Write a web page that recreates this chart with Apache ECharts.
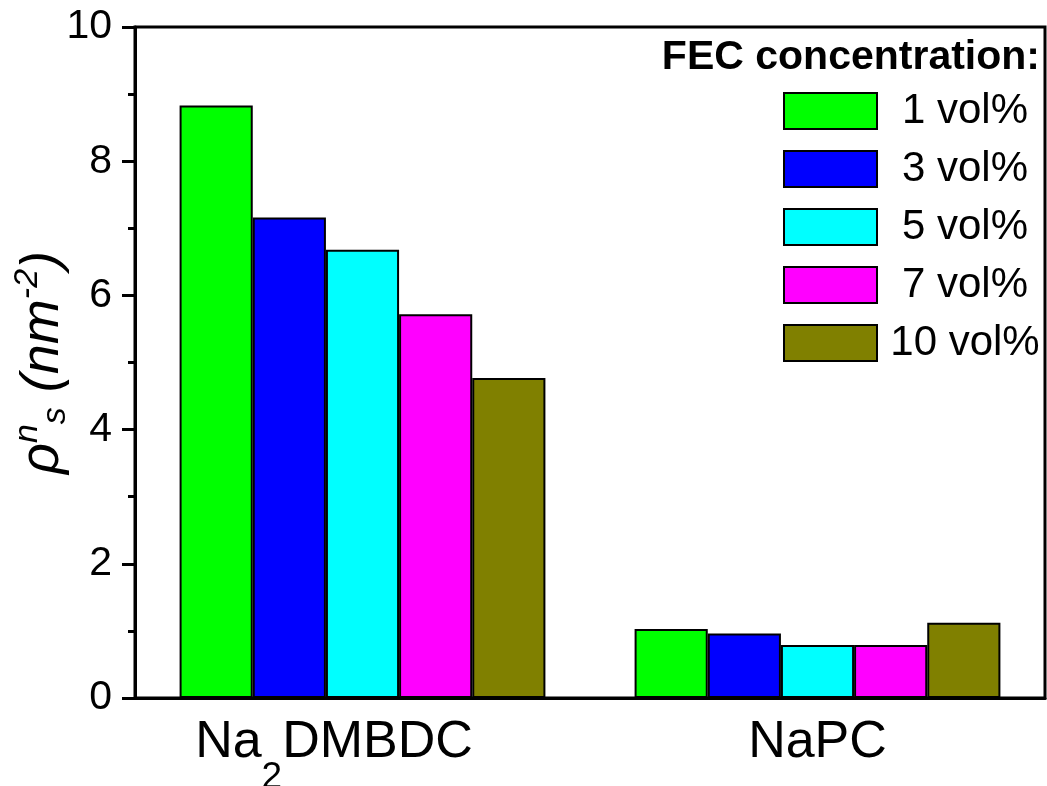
<!DOCTYPE html>
<html>
<head>
<meta charset="utf-8">
<script src="https://cdn.jsdelivr.net/npm/echarts@6/dist/echarts.min.js"></script>
<style>
  html, body { margin: 0; padding: 0; background: #fff; }
  #chart { width: 1047px; height: 786px; }
</style>
</head>
<body>
<div id="chart"></div>
<script>
// Surface density of species per electrolyte salt, grouped by FEC content
const categories = ['Na2DMBDC', 'NaPC'];
const seriesNames = ['1 vol%', '3 vol%', '5 vol%', '7 vol%', '10 vol%'];
const vol1 = [8.83, 1.03];
const vol3 = [7.16, 0.96];
const vol5 = [6.68, 0.79];
const vol7 = [5.72, 0.79];
const vol10 = [4.77, 1.12];
const yTicks = [0, 2, 4, 6, 8, 10];

const seriesValues = [vol1, vol3, vol5, vol7, vol10];
const colors = ['#00ff00', '#0000ff', '#00ffff', '#ff00ff', '#808000'];
const FONT = 'Liberation Sans, Arial, sans-serif';

const chart = echarts.init(document.getElementById('chart'), null, { renderer: 'canvas' });

// chemical formulae: digits become subscripts
function formatCategory(v) {
  if (!/\d/.test(v)) return v;
  const parts = v.split(/(\d+)/).filter(p => p.length);
  const s = parts.map(p => (/^\d+$/.test(p) ? '{sub|' + p + '}' : '{a|' + p + '}')).join('');
  return v === categories[0] ? s + '{gap|}' : s;
}

chart.setOption({
  animation: false,
  backgroundColor: '#fff',
  textStyle: { fontFamily: FONT, color: '#000' },
  title: {
    text: 'FEC concentration:',
    right: 7,
    top: 37,
    padding: 0,
    textStyle: { fontFamily: FONT, fontSize: 41, fontWeight: 'bold', color: '#000' }
  },
  legend: {
    orient: 'vertical',
    left: 783,
    top: 90,
    padding: 0,
    itemWidth: 93,
    itemHeight: 36,
    itemGap: 16,
    icon: 'rect',
    data: seriesNames,
    itemStyle: { borderColor: '#000', borderWidth: 2 },
    formatter: name => '{c|' + name + '}',
    textStyle: {
      fontFamily: FONT,
      fontSize: 42,
      color: '#000',
      rich: { c: { fontFamily: FONT, fontSize: 42, color: '#000', width: 166, align: 'center' } }
    }
  },
  grid: {
    left: 135,
    right: 2,
    top: 27,
    bottom: 88,
    containLabel: false,
    outerBoundsMode: 'none',
    show: true,
    borderColor: '#000',
    borderWidth: 3,
    backgroundColor: 'transparent'
  },
  xAxis: {
    type: 'category',
    data: categories,
    axisLine: { lineStyle: { color: '#000', width: 3 } },
    axisTick: { show: false },
    axisLabel: {
      interval: 0,
      hideOverlap: false,
      margin: 19,
      fontFamily: FONT,
      fontSize: 52,
      color: '#000',
      formatter: formatCategory,
      rich: {
        a: { fontFamily: FONT, fontSize: 52, color: '#000', padding: [0, 0, 35, 0] },
        sub: { fontFamily: FONT, fontSize: 37, color: '#000', padding: [35, 0, 0, 0] },
        gap: { width: 57 }
      }
    }
  },
  yAxis: {
    type: 'value',
    min: yTicks[0],
    max: yTicks[yTicks.length - 1],
    interval: yTicks[1] - yTicks[0],
    name: '{base|ρ}{sup|n}{sub|s}{base| (nm}{sup|-2}{base|)}',
    nameLocation: 'middle',
    nameGap: 60,
    nameRotate: 90,
    nameMoveOverlap: false,
    nameTextStyle: {
      fontFamily: FONT,
      fontSize: 54,
      fontStyle: 'italic',
      color: '#000',
      rich: {
        base: { fontFamily: FONT, fontSize: 54, fontStyle: 'italic', color: '#000' },
        sup: { fontFamily: FONT, fontSize: 34, fontStyle: 'italic', color: '#000', padding: [0, 0, 30, 0] },
        sub: { fontFamily: FONT, fontSize: 34, fontStyle: 'italic', color: '#000', padding: [26, 0, 0, 0] }
      }
    },
    axisLine: { show: true, lineStyle: { color: '#000', width: 3 } },
    axisTick: { show: true, inside: false, length: 13, lineStyle: { color: '#000', width: 3 } },
    minorTick: { show: true, splitNumber: 2, length: 7, lineStyle: { color: '#000', width: 3 } },
    splitLine: { show: false },
    minorSplitLine: { show: false },
    axisLabel: { margin: 23, fontFamily: FONT, fontSize: 41, color: '#000' }
  },
  series: seriesNames.map((name, i) => ({
    name,
    type: 'bar',
    data: seriesValues[i],
    barGap: '0%',
    barCategoryGap: '19.6%',
    itemStyle: { color: colors[i], borderColor: '#000', borderWidth: 2 }
  }))
});
</script>
</body>
</html>
